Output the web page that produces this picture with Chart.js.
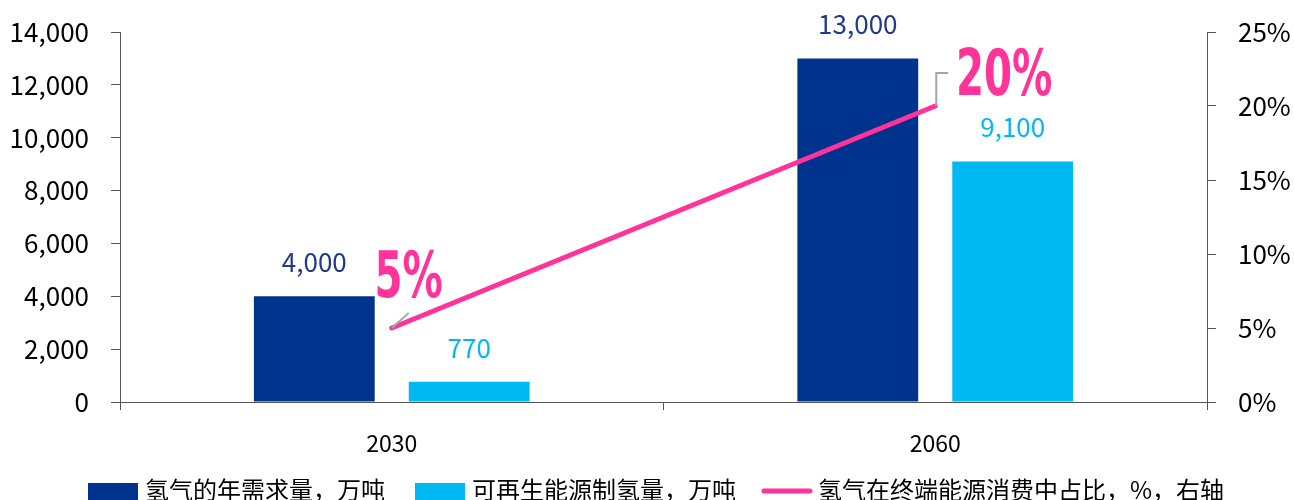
<!DOCTYPE html>
<html>
<head>
<meta charset="utf-8">
<script src="https://cdn.jsdelivr.net/npm/chart.js@4.4.1/dist/chart.umd.min.js"></script>
<style>
  html, body { margin: 0; padding: 0; background: #fff; }
  #wrap { width: 1294px; height: 500px; position: relative; }
</style>
</head>
<body>
<div id="wrap"><canvas id="chart"></canvas></div>
<script>
// Data
const categories = ["2030", "2060"];
const demand = [4000, 13000];        // 氢气的年需求量，万吨
const renewable = [770, 9100];       // 可再生能源制氢量，万吨
const share = [5, 20];               // 氢气在终端能源消费中占比，%
const leftTicks = [0, 2000, 4000, 6000, 8000, 10000, 12000, 14000];
const rightTicks = [0, 5, 10, 15, 20, 25];
const seriesNames = ["氢气的年需求量，万吨", "可再生能源制氢量，万吨", "氢气在终端能源消费中占比，%，右轴"];

const DARK = "#00338D", LIGHT = "#00B9F2", PINK = "#FF3399";
const FONT = "'Noto Sans CJK SC', 'Noto Sans', sans-serif";

// value labels above bars + big pink percentages with leader lines + legend
const labelsPlugin = {
    id: "labels",
    afterDatasetsDraw(chart) {
        const ctx = chart.ctx;
        ctx.save();
        ctx.textAlign = "center";
        ctx.textBaseline = "middle";
        ctx.font = "26px " + FONT;
        [0, 1].forEach(di => {
            chart.getDatasetMeta(di).data.forEach((bar, i) => {
                ctx.fillStyle = di === 0 ? "#1F3A8A" : LIGHT;
                ctx.fillText(chart.data.datasets[di].data[i].toLocaleString("en-US"), bar.x, bar.y - 34);
            });
        });
        const pts = chart.getDatasetMeta(2).data;
        // leader lines
        ctx.strokeStyle = "#A6A6A6";
        ctx.lineWidth = 2;
        ctx.beginPath();
        ctx.moveTo(pts[0].x, pts[0].y);
        ctx.lineTo(pts[0].x + 17, pts[0].y - 15);
        ctx.moveTo(pts[1].x + 1, pts[1].y);
        ctx.lineTo(pts[1].x + 1, pts[1].y - 33);
        ctx.lineTo(pts[1].x + 13, pts[1].y - 33);
        ctx.stroke();
        // big percentages
        ctx.fillStyle = PINK;
        ctx.font = "bold 64px 'Liberation Sans Narrow', 'DejaVu Sans Condensed', sans-serif";
        const big = [[pts[0].x + 17, pts[0].y - 48], [pts[1].x + 69, pts[1].y - 28]];
        share.forEach((v, i) => {
            ctx.save();
            ctx.translate(big[i][0], big[i][1]);
            ctx.scale(0.7, 1);
            ctx.fillText(v + "%", 0, 0);
            ctx.restore();
        });
        ctx.restore();
    },
    afterDraw(chart) {
        const ctx = chart.ctx;
        ctx.save();
        ctx.font = "24px " + FONT;
        ctx.textBaseline = "middle";
        const y = 490;
        ctx.fillStyle = DARK; ctx.fillRect(88, 483, 50, 20);
        ctx.fillStyle = LIGHT; ctx.fillRect(415, 483, 50, 20);
        ctx.strokeStyle = PINK; ctx.lineWidth = 5; ctx.lineCap = "round";
        ctx.beginPath(); ctx.moveTo(764, 491); ctx.lineTo(810, 491); ctx.stroke();
        ctx.fillStyle = "#000";
        ctx.fillText(seriesNames[0], 145, y);
        ctx.fillText(seriesNames[1], 472, y);
        ctx.fillText(seriesNames[2], 818, y);
        ctx.restore();
    }
};

const noPad = s => { s.paddingTop = 0; s.paddingBottom = 0; };

new Chart(document.getElementById("chart"), {
    data: {
        labels: categories,
        datasets: [
            { type: "bar", label: seriesNames[0], data: demand, yAxisID: "y", backgroundColor: DARK, barPercentage: 0.78, categoryPercentage: 0.57, order: 1 },
            { type: "bar", label: seriesNames[1], data: renewable, yAxisID: "y", backgroundColor: LIGHT, barPercentage: 0.78, categoryPercentage: 0.57, order: 1 },
            { type: "line", label: seriesNames[2], data: share, yAxisID: "y1", borderColor: PINK, borderWidth: 5, borderCapStyle: "round", pointRadius: 0, order: 0 }
        ]
    },
    options: {
        responsive: true,
        maintainAspectRatio: false,
        animation: false,
        layout: { padding: { top: 32, left: 0, right: 0, bottom: 0 } },
        plugins: { legend: { display: false }, tooltip: { enabled: false } },
        scales: {
            x: {
                offset: true,
                grid: { offset: true, drawOnChartArea: false, tickLength: 8, color: "#555" },
                border: { color: "#555" },
                ticks: { color: "#000", padding: 19, font: { family: FONT, size: 23 } },
                afterFit: s => { s.height = 98; s.paddingLeft = 0; s.paddingRight = 0; }
            },
            y: {
                position: "left", min: 0, max: 14000,
                afterBuildTicks: s => { s.ticks = leftTicks.map(v => ({ value: v })); },
                grid: { drawOnChartArea: false, tickLength: 9, color: "#555" },
                border: { color: "#555" },
                ticks: { color: "#000", padding: 22, font: { family: FONT, size: 26 }, callback: v => v.toLocaleString("en-US") },
                afterFit: s => { s.width = 120; noPad(s); }
            },
            y1: {
                position: "right", min: 0, max: 25,
                afterBuildTicks: s => { s.ticks = rightTicks.map(v => ({ value: v })); },
                grid: { drawOnChartArea: false, tickLength: 9, color: "#555" },
                border: { color: "#555" },
                ticks: { color: "#000", padding: 22, font: { family: FONT, size: 26 }, callback: v => v + "%" },
                afterFit: s => { s.width = 87; noPad(s); }
            }
        }
    },
    plugins: [labelsPlugin]
});
</script>
</body>
</html>
